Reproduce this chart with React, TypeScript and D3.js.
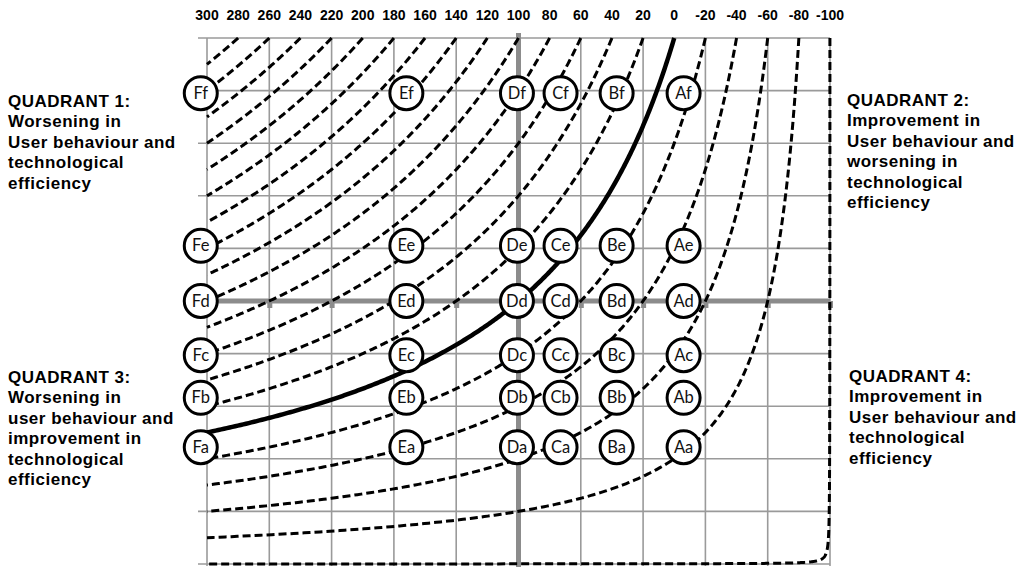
import React, { useEffect, useRef } from 'react';
import * as d3 from 'd3';

// user behaviour change (%) where each iso-curve meets the top edge
const topLabels = [300, 280, 260, 240, 220, 200, 180, 160, 140, 120, 100, 80, 60, 40, 20, 0, -20, -40, -60, -80, -100];
const gridU = [300, 260, 220, 180, 140, 100, 60, 20, -20, -60, -100];
const gridV = [0, -10, -20, -30, -40, -50, -60, -70, -80, -90, -100];

const colLetters = ['F', 'E', 'D', 'C', 'B', 'A'];
const colU = [304, 172, 101, 73, 37, -6];
const rowLetters = ['f', 'e', 'd', 'c', 'b', 'a'];
const rowV = [-10.5, -39.5, -50, -60.3, -68.4, -77.8];

const quad1 = ['QUADRANT 1:', 'Worsening in', 'User behaviour and', 'technological', 'efficiency'];
const quad2 = ['QUADRANT 2:', 'Improvement in', 'User behaviour and', 'worsening in', 'technological', 'efficiency'];
const quad3 = ['QUADRANT 3:', 'Worsening in', 'user behaviour and', 'improvement in', 'technological', 'efficiency'];
const quad4 = ['QUADRANT 4:', 'Improvement in', 'User behaviour and', 'technological', 'efficiency'];

export default function App() {
  const ref = useRef<SVGSVGElement | null>(null);

  useEffect(() => {
    const svg = d3.select(ref.current);
    svg.selectAll('*').remove();

    const x = d3.scaleLinear().domain([300, -100]).range([207, 830]);
    const y = d3.scaleLinear().domain([0, -100]).range([38, 564]);

    // grid
    const grid = svg.append('g').attr('stroke', '#9a9a9a').attr('stroke-width', 1.6);
    grid.selectAll('line.v')
      .data(gridU)
      .enter()
      .append('line')
      .attr('x1', d => x(d)).attr('x2', d => x(d))
      .attr('y1', y(0)).attr('y2', y(-100) + 2);
    grid.selectAll('line.h')
      .data(gridV)
      .enter()
      .append('line')
      .attr('x1', x(300) - 9).attr('x2', x(-100))
      .attr('y1', d => y(d)).attr('y2', d => y(d));

    // thick reference axes
    svg.append('line')
      .attr('x1', x(100)).attr('x2', x(100))
      .attr('y1', y(0) - 5).attr('y2', y(-100) + 3)
      .attr('stroke', '#8c8c8c').attr('stroke-width', 5);
    svg.append('line')
      .attr('x1', x(300)).attr('x2', x(-100))
      .attr('y1', y(-50)).attr('y2', y(-50))
      .attr('stroke', '#8c8c8c').attr('stroke-width', 5);
    svg.append('g')
      .selectAll('rect')
      .data(gridU.filter(u => u !== 300 && u !== 100))
      .enter()
      .append('rect')
      .attr('x', d => x(d) - 2).attr('y', y(-50))
      .attr('width', 5).attr('height', 7)
      .attr('fill', '#8c8c8c');

    // iso-curves: (1 + u/100) * (1 + v/100) = k
    const line = d3.line<[number, number]>()
      .x(d => x(d[0]))
      .y(d => y(d[1]));
    topLabels.forEach(lab => {
      const k = Math.max(1 + lab / 100, 0.0005);
      if (k >= 4) return;
      const a = Math.log(k);
      const b = Math.log(4);
      const pts: [number, number][] = d3.range(0, 301).map(i => {
        const fu = Math.exp(a + (b - a) * i / 300);
        return [(fu - 1) * 100, (k / fu - 1) * 100];
      });
      svg.append('path')
        .attr('d', line(pts))
        .attr('fill', 'none')
        .attr('stroke', '#000')
        .attr('stroke-width', lab === 0 ? 4.5 : 3)
        .attr('stroke-dasharray', lab === 0 ? null : '8,4');
    });

    // scenario circles
    const cells: { label: string; u: number; v: number }[] = [];
    rowLetters.forEach((r, ri) => {
      colLetters.forEach((c, ci) => {
        cells.push({ label: c + r, u: colU[ci], v: rowV[ri] });
      });
    });
    const g = svg.append('g')
      .selectAll('g')
      .data(cells)
      .enter()
      .append('g')
      .attr('transform', d => 'translate(' + x(d.u) + ',' + y(d.v) + ')');
    g.append('circle')
      .attr('r', 16.5)
      .attr('fill', '#fff')
      .attr('stroke', '#000')
      .attr('stroke-width', 3);
    g.append('text')
      .attr('text-anchor', 'middle')
      .attr('dy', 5.5)
      .style('font-family', 'Lato, sans-serif')
      .style('font-size', '16.5px')
      .style('fill', '#111')
      .text(d => d.label);

    // top labels
    svg.append('g')
      .selectAll('text')
      .data(topLabels)
      .enter()
      .append('text')
      .attr('x', d => x(d))
      .attr('y', 20)
      .attr('text-anchor', 'middle')
      .style('font-family', '"Liberation Sans", Arial, sans-serif')
      .style('font-weight', 'bold')
      .style('font-size', '14px')
      .text(d => d);

    // quadrant notes
    const notes: [string[], number, number][] = [
      [quad1, 8, 107],
      [quad2, 847, 106],
      [quad3, 8, 383],
      [quad4, 849, 382],
    ];
    notes.forEach(([lines, nx, ny]) => {
      svg.append('g')
        .selectAll('text')
        .data(lines)
        .enter()
        .append('text')
        .attr('x', nx)
        .attr('y', (d, i) => ny + i * 20.4)
        .style('font-family', '"Liberation Sans", Arial, sans-serif')
        .style('font-weight', 'bold')
        .style('font-size', '17px')
        .style('letter-spacing', '0.5px')
        .text(d => d);
    });
  }, []);

  return (
    <svg
      ref={ref}
      width={1024}
      height={579}
      style={{ position: 'absolute', left: 0, top: 0, background: '#fff' }}
    />
  );
}
